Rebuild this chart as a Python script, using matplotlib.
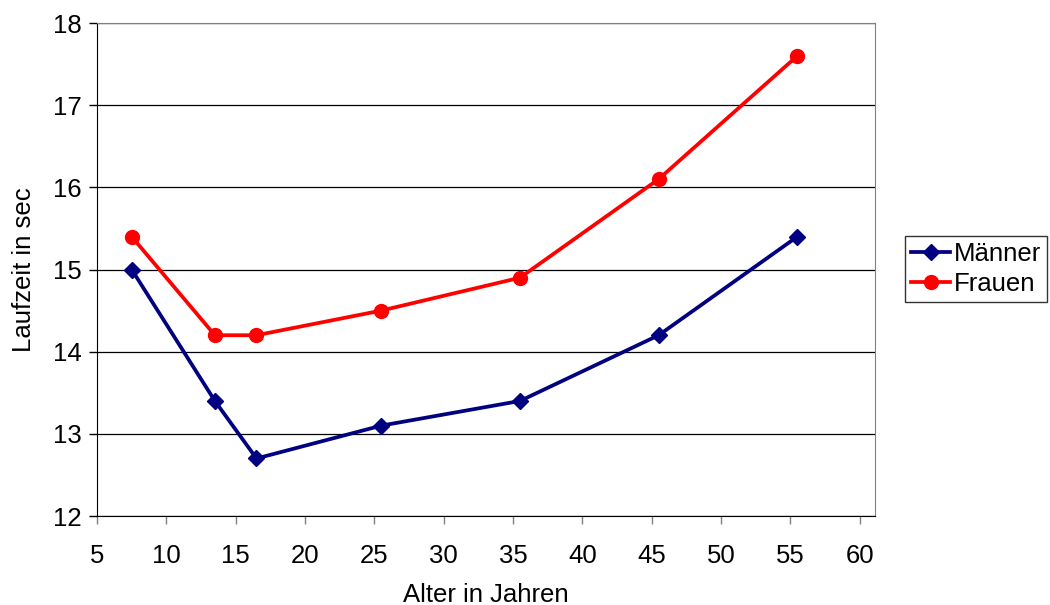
import matplotlib
matplotlib.use("Agg")
import matplotlib.pyplot as plt

plt.rcParams['font.family'] = ['Liberation Sans', 'DejaVu Sans']

alter = [7.5, 13.5, 16.5, 25.5, 35.5, 45.5, 55.5]
maenner = [15.0, 13.4, 12.7, 13.1, 13.4, 14.2, 15.4]
frauen = [15.4, 14.2, 14.2, 14.5, 14.9, 16.1, 17.6]
x_ticks = [5, 10, 15, 20, 25, 30, 35, 40, 45, 50, 55, 60]
y_ticks = [12, 13, 14, 15, 16, 17, 18]

FS = 18.5

fig = plt.figure(figsize=(10.5, 6.05), dpi=100)
ax = fig.add_axes([97 / 1050, 1 - 516 / 605, (875 - 97) / 1050, (516 - 23) / 605])

ax.plot(alter, maenner, color='#000080', lw=2.7, marker='D', ms=8, label='Männer', zorder=3)
ax.plot(alter, frauen, color='#ff0000', lw=2.7, marker='o', ms=10, label='Frauen', zorder=3)

ax.set_xlim(5, 61.1)
ax.set_ylim(12, 18)
ax.set_xticks(x_ticks)
ax.set_yticks(y_ticks)
ax.yaxis.grid(True, color='black', lw=0.9)
ax.set_axisbelow(True)

for side in ['top', 'right']:
    ax.spines[side].set_color('#808080')
for side in ['left', 'bottom']:
    ax.spines[side].set_color('black')
ax.tick_params(axis='both', direction='out', length=6, width=1, labelsize=FS)
ax.tick_params(axis='x', colors='#808080', labelcolor='black', pad=14)
ax.tick_params(axis='y', pad=5)

ax.set_xlabel('Alter in Jahren', fontsize=FS, labelpad=11)
ax.set_ylabel('Laufzeit in sec', fontsize=FS, labelpad=12)

leg = ax.legend(loc='center left', bbox_to_anchor=(905 / 1050, 1 - 269 / 605),
                bbox_transform=fig.transFigure, fontsize=FS, frameon=True,
                fancybox=False, edgecolor='black', borderpad=0.25,
                handlelength=1.5, handletextpad=0.15, labelspacing=0.2,
                borderaxespad=0)
leg.get_frame().set_linewidth(1.0)

fig.savefig('out.png', dpi=100)
